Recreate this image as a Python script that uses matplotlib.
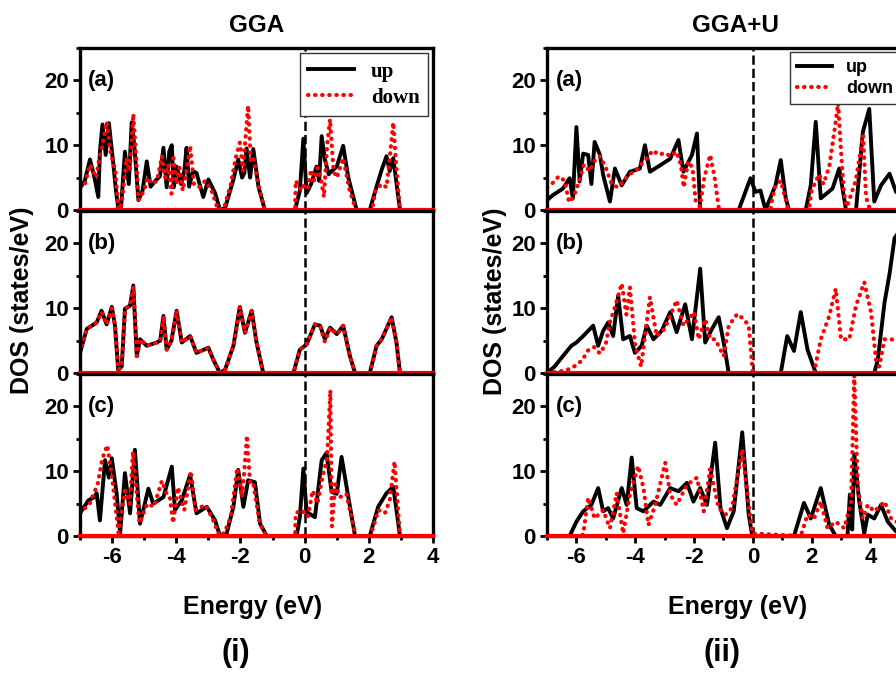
import numpy as np
import matplotlib
matplotlib.use("Agg")
import matplotlib.pyplot as plt
from matplotlib.ticker import MultipleLocator, FixedLocator

plt.rcParams['font.family'] = ['Liberation Sans', 'DejaVu Sans']
plt.rcParams['font.weight'] = 'bold'
plt.rcParams['axes.unicode_minus'] = False

# (energy eV, DOS states/eV)
gga_a_up = [(-7.0,3.4),(-6.85,4.5),(-6.69,7.8),(-6.55,5.0),(-6.43,2.0),(-6.38,9.0),(-6.3,13.2),(-6.2,8.5),(-6.1,13.4),(-5.96,7.0),(-5.88,3.0),(-5.8,0.0),(-5.72,0.5),(-5.6,9.0),(-5.48,4.0),(-5.39,13.5),(-5.3,9.5),(-5.18,1.5),(-5.05,3.0),(-4.92,7.5),(-4.8,3.6),(-4.65,4.5),(-4.51,5.2),(-4.4,9.6),(-4.3,3.5),(-4.22,9.0),(-4.14,10.0),(-4.08,3.5),(-3.99,6.7),(-3.85,4.0),(-3.75,6.0),(-3.68,9.6),(-3.6,3.6),(-3.48,6.0),(-3.37,5.7),(-3.16,2.0),(-3.0,4.7),(-2.79,2.6),(-2.64,0.0),(-2.48,0.3),(-2.22,4.7),(-2.07,7.8),(-1.95,5.0),(-1.88,5.7),(-1.81,9.5),(-1.7,5.0),(-1.6,9.4),(-1.44,3.6),(-1.24,0.0),(-0.3,0.0),(-0.15,3.0),(-0.04,11.0),(0.06,2.6),(0.2,4.0),(0.37,6.7),(0.45,4.5),(0.53,11.4),(0.63,7.8),(0.75,5.5),(0.84,6.0),(1.0,6.7),(1.2,9.9),(1.36,5.0),(1.62,0.0),(2.03,0.0),(2.24,3.6),(2.4,6.2),(2.55,8.3),(2.65,6.0),(2.76,8.0),(2.97,0.0),(4.0,0.0)]
gga_a_dn = [(-7.0,3.4),(-6.85,4.0),(-6.69,7.0),(-6.5,5.0),(-6.4,8.0),(-6.3,10.0),(-6.17,13.6),(-6.05,9.0),(-5.9,6.0),(-5.8,0.0),(-5.7,1.0),(-5.55,8.0),(-5.45,6.0),(-5.34,14.8),(-5.25,8.0),(-5.18,1.5),(-5.0,3.0),(-4.9,5.0),(-4.75,4.0),(-4.6,4.5),(-4.45,8.3),(-4.35,5.0),(-4.25,7.0),(-4.15,2.5),(-4.09,8.0),(-3.99,4.0),(-3.9,6.5),(-3.8,3.0),(-3.7,5.5),(-3.57,9.9),(-3.45,4.0),(-3.3,3.5),(-3.1,4.5),(-2.9,3.0),(-2.7,0.0),(-2.5,0.5),(-2.3,4.0),(-2.15,8.0),(-2.02,10.4),(-1.92,6.0),(-1.83,12.0),(-1.76,16.1),(-1.68,7.5),(-1.6,8.0),(-1.4,3.0),(-1.25,0.0),(-0.3,0.0),(-0.28,4.5),(-0.1,3.0),(0.0,4.0),(0.1,3.5),(0.2,6.2),(0.3,4.5),(0.4,6.5),(0.5,5.0),(0.6,2.0),(0.7,10.0),(0.79,14.0),(0.9,6.0),(1.0,5.0),(1.2,8.0),(1.4,3.0),(1.6,0.0),(2.1,0.0),(2.2,3.0),(2.4,4.0),(2.55,3.5),(2.65,8.0),(2.76,13.5),(2.85,7.0),(2.97,0.0),(4.0,0.0)]

gga_b_up = [(-7.0,3.1),(-6.79,6.8),(-6.6,7.4),(-6.48,7.8),(-6.33,9.6),(-6.17,7.5),(-6.01,10.2),(-5.91,7.3),(-5.81,0.5),(-5.7,1.0),(-5.6,9.9),(-5.44,10.4),(-5.34,13.5),(-5.23,2.6),(-5.13,5.2),(-4.92,4.2),(-4.61,4.7),(-4.5,5.0),(-4.4,8.8),(-4.3,3.6),(-4.15,5.0),(-3.99,9.6),(-3.83,4.7),(-3.57,5.7),(-3.37,3.1),(-3.0,3.9),(-2.85,2.1),(-2.64,0.0),(-2.48,0.5),(-2.22,4.2),(-2.02,10.2),(-1.86,6.2),(-1.65,9.6),(-1.5,4.7),(-1.29,0.0),(-0.35,0.0),(-0.15,3.6),(0.06,4.4),(0.32,7.5),(0.48,7.3),(0.63,5.2),(0.79,7.0),(1.0,6.0),(1.2,7.3),(1.41,2.6),(1.57,0.0),(2.03,0.0),(2.24,4.2),(2.4,5.2),(2.71,8.6),(2.86,4.7),(2.97,0.0),(4.0,0.0)]
gga_b_dn = [(-7.0,3.1),(-6.79,6.8),(-6.6,7.4),(-6.48,7.8),(-6.33,9.4),(-6.17,7.5),(-6.01,10.0),(-5.91,7.3),(-5.81,0.5),(-5.7,1.0),(-5.6,9.9),(-5.44,10.4),(-5.34,13.3),(-5.23,2.6),(-5.13,5.2),(-4.92,4.2),(-4.61,4.7),(-4.5,5.0),(-4.4,8.8),(-4.3,3.6),(-4.15,5.0),(-3.99,9.6),(-3.83,4.7),(-3.57,5.7),(-3.37,3.1),(-3.0,3.9),(-2.85,2.1),(-2.64,0.0),(-2.48,0.5),(-2.22,4.2),(-2.02,10.2),(-1.86,6.2),(-1.65,9.6),(-1.5,4.7),(-1.29,0.0),(-0.35,0.0),(-0.15,3.6),(0.06,4.4),(0.32,7.5),(0.48,7.3),(0.63,4.8),(0.79,7.0),(1.0,6.0),(1.2,7.3),(1.41,2.6),(1.57,0.0),(2.03,0.0),(2.24,4.2),(2.4,5.2),(2.71,8.6),(2.86,4.7),(2.97,0.0),(4.0,0.0)]

gga_c_up = [(-7.0,3.5),(-6.74,5.5),(-6.55,6.0),(-6.48,6.6),(-6.38,2.4),(-6.22,11.7),(-6.1,9.0),(-6.01,12.0),(-5.86,6.6),(-5.75,0.4),(-5.6,9.7),(-5.44,3.5),(-5.29,13.3),(-5.13,1.9),(-4.87,7.3),(-4.72,5.0),(-4.4,6.0),(-4.14,10.7),(-4.04,4.0),(-3.83,5.5),(-3.57,9.4),(-3.37,3.5),(-3.05,4.5),(-2.79,2.4),(-2.64,0.0),(-2.43,0.4),(-2.22,4.5),(-2.07,10.2),(-1.91,4.5),(-1.76,8.6),(-1.55,8.3),(-1.39,1.9),(-1.18,0.0),(-0.25,0.0),(-0.15,2.9),(-0.04,10.4),(0.06,3.7),(0.32,2.9),(0.53,11.7),(0.68,12.8),(0.84,6.8),(1.0,6.5),(1.15,12.2),(1.36,6.0),(1.57,0.0),(2.03,0.0),(2.29,4.5),(2.55,6.6),(2.76,7.6),(2.97,0.0),(4.0,0.0)]
gga_c_dn = [(-7.0,3.5),(-6.7,5.0),(-6.45,8.0),(-6.3,12.0),(-6.15,14.0),(-6.0,9.0),(-5.8,0.5),(-5.6,7.0),(-5.45,5.0),(-5.35,13.0),(-5.15,2.0),(-4.9,5.0),(-4.7,4.5),(-4.45,8.5),(-4.3,6.5),(-4.2,6.0),(-4.1,2.0),(-3.95,7.5),(-3.75,4.0),(-3.55,10.0),(-3.4,4.0),(-3.1,4.8),(-2.9,3.0),(-2.65,0.0),(-2.5,0.5),(-2.3,3.0),(-2.1,10.5),(-1.95,6.0),(-1.85,12.0),(-1.8,15.5),(-1.7,8.0),(-1.6,8.0),(-1.4,2.0),(-1.2,0.0),(-0.3,0.0),(-0.28,3.5),(-0.1,4.0),(0.1,3.0),(0.25,7.0),(0.4,5.0),(0.55,9.0),(0.7,12.0),(0.8,22.5),(0.85,1.5),(0.95,8.0),(1.1,6.0),(1.3,6.5),(1.45,3.0),(1.6,0.0),(2.05,0.0),(2.3,4.0),(2.5,3.5),(2.65,5.5),(2.8,11.5),(2.97,0.0),(4.0,0.0)]

ggau_a_up = [(-7.0,1.5),(-6.8,2.3),(-6.46,3.3),(-6.23,4.9),(-6.12,1.8),(-6.0,12.8),(-5.89,4.4),(-5.77,8.7),(-5.6,8.5),(-5.49,4.0),(-5.38,10.5),(-5.2,8.5),(-5.09,5.4),(-4.86,1.3),(-4.69,6.4),(-4.46,3.8),(-4.18,5.9),(-3.84,6.4),(-3.67,10.0),(-3.5,5.9),(-3.15,6.9),(-2.81,7.9),(-2.53,10.8),(-2.36,5.9),(-2.07,8.5),(-1.9,11.8),(-1.79,0.0),(-0.48,0.0),(-0.08,4.9),(0.09,2.8),(0.26,3.0),(0.43,0.0),(0.77,3.8),(0.95,7.7),(1.12,1.8),(1.23,0.0),(1.8,0.0),(1.97,3.8),(2.14,13.6),(2.31,1.8),(2.71,3.3),(2.94,6.4),(3.17,0.0),(3.51,0.0),(3.74,12.0),(3.96,15.6),(4.13,1.3),(4.36,3.8),(4.65,5.6),(4.87,2.8),(5.1,2.0),(6.0,1.0)]
ggau_a_dn = [(-7.0,3.5),(-6.8,4.2),(-6.6,5.2),(-6.4,4.5),(-6.25,1.2),(-6.1,2.0),(-5.9,4.5),(-5.75,7.0),(-5.55,6.0),(-5.4,7.5),(-5.2,8.3),(-5.0,6.5),(-4.8,4.0),(-4.6,3.5),(-4.4,4.5),(-4.2,5.5),(-4.0,6.0),(-3.8,7.0),(-3.6,8.0),(-3.4,9.2),(-3.2,8.5),(-3.0,8.8),(-2.8,8.3),(-2.6,9.0),(-2.45,7.0),(-2.35,3.5),(-2.2,7.5),(-2.05,6.5),(-1.95,1.5),(-1.8,0.5),(-1.65,5.0),(-1.45,8.5),(-1.3,5.0),(-1.15,0.0),(0.6,0.0),(0.65,1.5),(0.75,3.5),(0.95,4.5),(1.1,2.0),(1.2,0.0),(1.9,0.0),(2.0,3.0),(2.25,5.5),(2.4,4.0),(2.6,6.7),(2.8,13.0),(2.9,16.5),(3.0,9.0),(3.1,2.5),(3.2,0.5),(3.5,4.5),(3.75,11.5),(3.85,2.0),(3.95,0.5),(4.1,0.0),(6.0,0.0)]

ggau_b_up = [(-7.0,0.0),(-6.74,1.0),(-6.46,2.6),(-6.17,4.2),(-6.0,4.7),(-5.77,5.7),(-5.6,6.5),(-5.43,7.3),(-5.26,4.2),(-5.09,6.5),(-4.92,7.8),(-4.75,5.7),(-4.58,11.9),(-4.41,5.2),(-4.18,5.7),(-4.01,3.1),(-3.78,4.2),(-3.61,7.3),(-3.38,5.2),(-3.1,6.5),(-2.81,9.4),(-2.59,6.3),(-2.3,10.6),(-2.07,5.2),(-1.79,16.1),(-1.62,4.7),(-1.39,6.8),(-1.16,8.6),(-0.99,4.7),(-0.82,0.0),(0.95,0.0),(1.17,5.7),(1.4,3.4),(1.63,9.4),(1.86,3.6),(2.14,0.0),(4.13,0.0),(4.25,2.0),(4.48,10.9),(4.65,15.3),(4.82,20.8),(5.0,22.0),(6.0,20.0)]
ggau_b_dn = [(-7.0,0.0),(-6.6,0.2),(-6.3,0.5),(-6.0,1.2),(-5.8,2.0),(-5.6,3.5),(-5.4,4.0),(-5.2,3.0),(-5.0,4.5),(-4.85,8.0),(-4.7,10.0),(-4.46,13.8),(-4.3,9.0),(-4.18,13.2),(-4.0,4.2),(-3.8,1.0),(-3.5,11.7),(-3.27,5.7),(-3.0,6.8),(-2.59,11.2),(-2.36,7.3),(-2.0,9.4),(-1.84,5.2),(-1.62,8.3),(-1.45,5.2),(-1.28,5.2),(-0.99,2.6),(-0.82,7.3),(-0.53,9.1),(-0.31,8.3),(-0.14,7.3),(0.0,0.0),(2.08,0.0),(2.31,5.2),(2.6,8.8),(2.82,13.0),(3.0,5.2),(3.28,5.2),(3.51,10.4),(3.79,14.0),(4.02,9.4),(4.19,2.0),(4.3,1.0),(4.48,5.2),(6.0,5.0)]

ggau_c_up = [(-7.0,0.0),(-6.23,0.0),(-6.0,2.2),(-5.77,3.8),(-5.49,4.8),(-5.26,7.4),(-5.09,3.8),(-4.92,4.3),(-4.75,2.7),(-4.46,7.4),(-4.29,4.8),(-4.12,12.1),(-3.95,4.3),(-3.72,3.8),(-3.38,5.3),(-3.15,4.8),(-2.81,7.4),(-2.53,6.9),(-2.24,8.2),(-2.02,5.3),(-1.79,7.4),(-1.56,4.8),(-1.28,14.4),(-1.1,4.3),(-0.88,1.2),(-0.65,3.8),(-0.36,16.0),(-0.14,3.3),(-0.02,0.0),(1.4,0.0),(1.74,5.1),(1.97,2.7),(2.31,7.4),(2.6,1.7),(2.82,0.0),(3.22,0.0),(3.3,6.4),(3.38,1.0),(3.45,12.6),(3.62,5.3),(3.79,0.4),(3.91,3.3),(4.13,2.7),(4.36,4.8),(4.59,2.2),(4.87,0.7),(5.2,1.0),(6.0,0.5)]
ggau_c_dn = [(-7.0,0.0),(-6.0,0.0),(-5.77,0.2),(-5.6,5.9),(-5.38,2.7),(-5.09,4.0),(-4.86,1.2),(-4.63,6.6),(-4.41,0.4),(-4.18,6.4),(-3.9,10.8),(-3.72,7.4),(-3.55,1.7),(-3.32,4.8),(-2.98,11.3),(-2.81,6.4),(-2.59,4.8),(-2.24,7.9),(-1.9,9.0),(-1.67,3.8),(-1.45,10.3),(-1.16,4.3),(-0.93,3.3),(-0.71,4.3),(-0.36,13.4),(-0.14,4.8),(-0.02,0.4),(1.63,0.0),(1.86,3.3),(2.08,2.7),(2.31,5.3),(2.54,1.2),(2.82,2.2),(3.11,1.2),(3.34,5.3),(3.45,24.8),(3.57,7.4),(3.74,2.7),(3.91,4.8),(4.13,3.8),(4.48,5.3),(4.7,2.7),(4.87,2.2),(6.0,2.0)]

panel_labels = ['(a)', '(b)', '(c)']
left_data = [(gga_a_up, gga_a_dn), (gga_b_up, gga_b_dn), (gga_c_up, gga_c_dn)]
right_data = [(ggau_a_up, ggau_a_dn), (ggau_b_up, ggau_b_dn), (ggau_c_up, ggau_c_dn)]
x_major = [-6, -4, -2, 0, 2, 4]

fig = plt.figure(figsize=(8.96, 6.73), dpi=100)

bottoms = [0.688, 0.4458, 0.2036]
h = 0.2407


def setup(ax, xmax, last):
    ax.set_xlim(-7, xmax)
    ax.set_ylim(0, 25)
    ax.xaxis.set_major_locator(FixedLocator(x_major))
    ax.xaxis.set_minor_locator(FixedLocator([-7, -5, -3, -1, 1, 3, 5]))
    ax.set_yticks([0, 10, 20])
    ax.yaxis.set_minor_locator(MultipleLocator(5))
    ax.tick_params(which='both', direction='out', width=2, labelsize=16, top=False, right=False)
    ax.tick_params(which='major', length=5, pad=3)
    ax.tick_params(which='minor', length=3)
    if not last:
        ax.tick_params(axis='x', which='both', bottom=False, labelbottom=False)
    for s in ax.spines.values():
        s.set_linewidth(2.4)
    for t in ax.get_xticklabels() + ax.get_yticklabels():
        t.set_fontweight('bold')


for i in range(3):
    for col, (x0, w, xmax, data) in enumerate([(0.0893, 0.394, 4, left_data), (0.6105, 0.4266, 6, right_data)]):
        ax = fig.add_axes([x0, bottoms[i], w, h])
        up = np.array(data[i][0]).T
        dn = np.array(data[i][1]).T
        l1, = ax.plot(up[0], up[1], color='black', lw=2.8, label='up')
        l2, = ax.plot(dn[0], dn[1], color='red', lw=3.0, linestyle=(0, (0.1, 1.6)),
                      dash_capstyle='round', label='down')
        ax.axvline(0, color='black', ls='--', lw=1.8, zorder=1)
        ax.axhline(0, color='red', lw=3, zorder=5, clip_on=False)
        setup(ax, xmax, i == 2)
        ax.text(0.023, 0.80, panel_labels[i], transform=ax.transAxes,
                fontsize=16, fontweight='bold', va='center', ha='left')
        if i == 0:
            if col == 0:
                leg = ax.legend(handles=[l1, l2], loc='upper right', borderaxespad=0.25,
                                fancybox=False, framealpha=1, edgecolor='#333333',
                                handlelength=2.2, labelspacing=0.3,
                                prop={'family': 'Liberation Serif', 'size': 15})
            else:
                leg = ax.legend(handles=[l1, l2], loc='upper left', bbox_to_anchor=(0.636, 0.975),
                                fancybox=False, framealpha=1, edgecolor='#333333',
                                handlelength=1.9, labelspacing=0.2, borderaxespad=0,
                                prop={'family': 'Liberation Sans', 'size': 13})
            leg.get_frame().set_linewidth(1.0)

fig.text(257/896, 1 - 25/673, 'GGA', ha='center', va='center', fontsize=17.5, fontweight='bold')
fig.text(735/896, 1 - 25/673, 'GGA+U', ha='center', va='center', fontsize=17.5, fontweight='bold')
fig.text(22/896, 1 - 300/673, 'DOS (states/eV)', rotation=90, ha='center', va='center',
         fontsize=18, fontweight='bold')
fig.text(495/896, 1 - 301/673, 'DOS (states/eV)', rotation=90, ha='center', va='center',
         fontsize=18, fontweight='bold')
fig.text(253/896, 1 - 607/673, 'Energy (eV)', ha='center', va='center', fontsize=18, fontweight='bold')
fig.text(738/896, 1 - 607/673, 'Energy (eV)', ha='center', va='center', fontsize=18, fontweight='bold')
fig.text(236/896, 1 - 653/673, '(i)', ha='center', va='center', fontsize=22, fontweight='bold')
fig.text(722/896, 1 - 653/673, '(ii)', ha='center', va='center', fontsize=22, fontweight='bold')

fig.savefig('out.png', dpi=100)
